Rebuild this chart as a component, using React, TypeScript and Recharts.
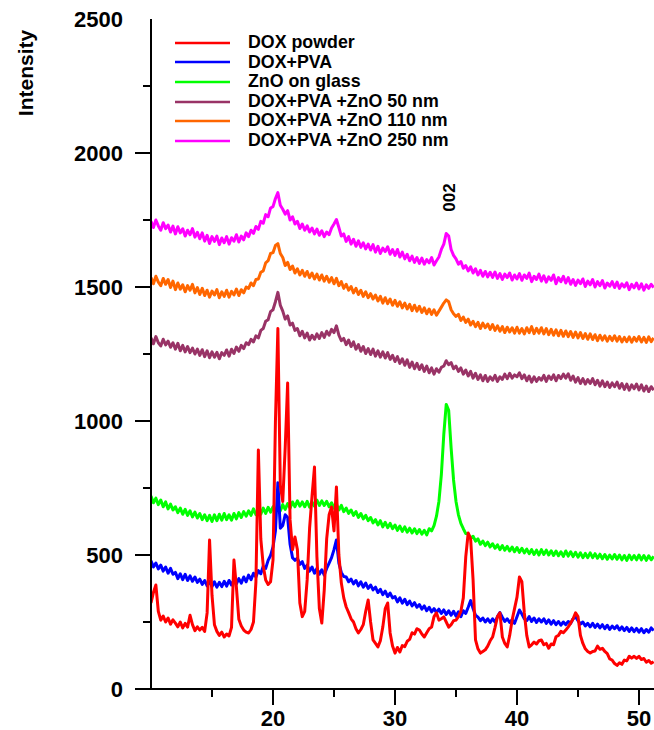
import { LineChart, Line, XAxis, YAxis, ReferenceDot } from 'recharts'

// XRD scans sampled every 0.2 deg (2θ), starting at 10 deg
const X_START = 10
const X_STEP = 0.2

const DOX_POWDER = [
  321, 360, 388, 290, 257, 272, 250, 265, 242, 258,
  246, 232, 250, 228, 245, 231, 275, 240, 218, 232,
  220, 230, 215, 284, 556, 350, 240, 215, 200, 212,
  194, 205, 198, 230, 481, 380, 260, 235, 220, 212,
  209, 222, 250, 400, 892, 560, 460, 407, 390, 400,
  481, 1000, 1345, 760, 700, 900, 1142, 631, 520, 567,
  520, 321, 270, 290, 407, 600, 720, 828, 493, 300,
  246, 369, 560, 650, 679, 590, 754, 500, 396, 340,
  306, 285, 262, 250, 225, 209, 222, 240, 290, 332,
  250, 183, 170, 157, 180, 231, 300, 321, 209, 160,
  134, 155, 138, 162, 158, 178, 185, 210, 205, 225,
  220, 205, 194, 210, 225, 231, 270, 284, 257, 262,
  269, 250, 231, 240, 255, 257, 270, 290, 340, 493,
  582, 560, 407, 183, 150, 134, 140, 146, 160, 180,
  194, 230, 270, 284, 194, 170, 157, 200, 257, 300,
  343, 418, 400, 284, 200, 157, 165, 175, 168, 180,
  183, 165, 170, 152, 168, 165, 195, 200, 215, 210,
  220, 232, 246, 262, 284, 270, 200, 170, 150, 140,
  134, 140, 142, 160, 148, 152, 140, 132, 112, 108,
  95, 88, 98, 92, 108, 105, 122, 115, 122, 114,
  122, 110, 114, 100, 106, 96, 102,
]

const DOX_PVA = [
  478, 455, 470, 448, 462, 440, 455, 432, 450, 428,
  435, 412, 430, 408, 428, 405, 422, 402, 418, 398,
  410, 390, 405, 385, 402, 382, 400, 380, 398, 382,
  402, 384, 405, 388, 408, 392, 412, 395, 418, 400,
  425, 408, 432, 418, 442, 430, 458, 450, 480, 498,
  530, 590, 770, 600, 610, 650, 640, 540, 490, 480,
  488, 465, 475, 450, 462, 440, 455, 432, 450, 428,
  445, 425, 450, 470, 490, 520, 556, 470, 435, 420,
  418, 400, 410, 392, 405, 385, 400, 380, 395, 375,
  388, 370, 380, 360, 372, 352, 365, 345, 358, 340,
  345, 325, 340, 320, 335, 315, 328, 310, 322, 305,
  315, 298, 310, 292, 305, 288, 300, 285, 298, 282,
  295, 278, 292, 275, 290, 272, 288, 270, 292, 282,
  305, 330, 300, 275, 268, 255, 265, 250, 262, 248,
  262, 250, 270, 285, 268, 252, 262, 248, 258, 245,
  270, 295, 280, 262, 255, 270, 252, 265, 248, 262,
  250, 262, 245, 258, 242, 255, 240, 252, 238, 250,
  240, 252, 245, 262, 270, 255, 242, 250, 235, 245,
  232, 245, 230, 242, 228, 240, 225, 238, 222, 235,
  225, 236, 220, 232, 218, 230, 215, 228, 214, 226,
  212, 225, 210, 222, 212, 228, 218,
]

const ZNO_GLASS = [
  720, 695, 712, 688, 705, 680, 698, 672, 690, 668,
  680, 658, 675, 652, 670, 648, 665, 642, 660, 638,
  655, 632, 650, 628, 648, 625, 650, 628, 652, 630,
  655, 632, 650, 630, 655, 635, 658, 640, 662, 645,
  665, 648, 672, 650, 668, 652, 675, 655, 678, 660,
  680, 662, 685, 665, 688, 670, 692, 675, 698, 680,
  702, 682, 698, 680, 700, 678, 698, 682, 705, 685,
  702, 685, 700, 680, 695, 675, 690, 668, 685, 662,
  675, 655, 668, 648, 662, 640, 655, 635, 648, 628,
  640, 620, 632, 612, 628, 605, 622, 602, 618, 598,
  612, 592, 608, 588, 605, 585, 600, 582, 598, 580,
  595, 578, 592, 575, 598, 590, 610, 645, 700, 800,
  950, 1062, 1040, 900, 780, 700, 650, 618, 598, 580,
  578, 562, 570, 552, 560, 540, 552, 535, 548, 530,
  542, 525, 538, 520, 535, 518, 532, 515, 530, 512,
  528, 510, 525, 508, 522, 505, 520, 502, 518, 500,
  520, 502, 518, 500, 516, 498, 515, 497, 512, 495,
  515, 496, 512, 494, 510, 492, 508, 490, 506, 490,
  508, 490, 505, 488, 503, 486, 502, 484, 500, 485,
  502, 484, 500, 482, 498, 480, 500, 483, 498, 482,
  500, 482, 498, 480, 497, 482, 495,
]

const ZNO_50 = [
  1310, 1288, 1315, 1292, 1280, 1305, 1284, 1298, 1275, 1292,
  1268, 1290, 1262, 1282, 1258, 1278, 1255, 1272, 1250, 1268,
  1245, 1266, 1240, 1262, 1236, 1258, 1238, 1256, 1232, 1255,
  1245, 1265, 1242, 1268, 1252, 1276, 1260, 1282, 1270, 1292,
  1285, 1305, 1295, 1318, 1310, 1338, 1345, 1372, 1378, 1408,
  1415, 1445, 1480, 1432, 1410, 1380, 1392, 1358, 1365, 1338,
  1345, 1318, 1335, 1310, 1328, 1302, 1320, 1305, 1325, 1308,
  1330, 1312, 1335, 1320, 1342, 1330, 1355, 1320, 1300, 1308,
  1285, 1302, 1278, 1295, 1268, 1285, 1260, 1278, 1252, 1270,
  1248, 1268, 1242, 1262, 1238, 1258, 1235, 1255, 1230, 1245,
  1222, 1240, 1215, 1232, 1208, 1228, 1200, 1220, 1195, 1215,
  1192, 1210, 1185, 1205, 1180, 1198, 1175, 1195, 1182, 1200,
  1205, 1225, 1210, 1218, 1195, 1205, 1185, 1198, 1175, 1190,
  1168, 1185, 1160, 1178, 1155, 1172, 1150, 1170, 1148, 1165,
  1152, 1170, 1148, 1165, 1155, 1175, 1158, 1178, 1160, 1172,
  1165, 1180, 1158, 1172, 1150, 1168, 1145, 1165, 1148, 1162,
  1152, 1170, 1148, 1168, 1155, 1172, 1150, 1170, 1158, 1175,
  1160, 1176, 1152, 1168, 1145, 1162, 1140, 1158, 1138, 1155,
  1140, 1158, 1135, 1152, 1130, 1150, 1128, 1145, 1125, 1142,
  1128, 1145, 1122, 1140, 1118, 1138, 1115, 1135, 1120, 1138,
  1116, 1135, 1112, 1130, 1110, 1128, 1115,
]

const ZNO_110 = [
  1535, 1512, 1540, 1518, 1505, 1532, 1510, 1528, 1498, 1522,
  1490, 1515, 1492, 1508, 1482, 1505, 1488, 1510, 1478, 1498,
  1472, 1495, 1468, 1488, 1462, 1485, 1470, 1490, 1460, 1482,
  1465, 1488, 1462, 1484, 1470, 1492, 1468, 1490, 1478, 1500,
  1495, 1515, 1505, 1528, 1530, 1555, 1560, 1590, 1598, 1625,
  1628, 1655, 1662, 1625, 1610, 1580, 1592, 1565, 1578, 1552,
  1568, 1545, 1562, 1540, 1558, 1535, 1552, 1530, 1548, 1526,
  1545, 1522, 1540, 1518, 1535, 1512, 1532, 1505, 1520, 1495,
  1510, 1488, 1502, 1478, 1495, 1472, 1488, 1465, 1482, 1460,
  1475, 1455, 1470, 1448, 1465, 1440, 1460, 1438, 1455, 1432,
  1450, 1428, 1445, 1422, 1440, 1418, 1435, 1412, 1432, 1410,
  1428, 1405, 1422, 1400, 1418, 1398, 1415, 1395, 1410, 1425,
  1440, 1452, 1445, 1415, 1400, 1390, 1398, 1375, 1388, 1368,
  1380, 1358, 1372, 1352, 1368, 1345, 1365, 1348, 1362, 1342,
  1360, 1338, 1355, 1335, 1352, 1330, 1350, 1332, 1348, 1328,
  1350, 1328, 1345, 1325, 1348, 1330, 1352, 1326, 1346, 1328,
  1348, 1325, 1345, 1322, 1342, 1320, 1340, 1318, 1338, 1316,
  1336, 1315, 1334, 1312, 1332, 1310, 1330, 1308, 1326, 1305,
  1325, 1304, 1322, 1300, 1320, 1302, 1318, 1298, 1316, 1300,
  1318, 1298, 1315, 1295, 1312, 1296, 1314, 1294, 1312, 1298,
  1315, 1295, 1312, 1293, 1314, 1296, 1310,
]

const ZNO_250 = [
  1745, 1722, 1750, 1728, 1712, 1740, 1718, 1731, 1705, 1727,
  1698, 1725, 1702, 1717, 1690, 1712, 1695, 1718, 1686, 1704,
  1680, 1702, 1671, 1693, 1662, 1688, 1670, 1690, 1658, 1683,
  1665, 1688, 1660, 1684, 1671, 1695, 1668, 1690, 1676, 1702,
  1688, 1712, 1700, 1726, 1715, 1745, 1738, 1770, 1762, 1795,
  1800, 1830, 1852, 1805, 1790, 1772, 1785, 1750, 1762, 1735,
  1745, 1718, 1735, 1712, 1728, 1705, 1720, 1698, 1716, 1693,
  1710, 1688, 1705, 1695, 1720, 1735, 1752, 1722, 1690, 1698,
  1670, 1688, 1660, 1678, 1652, 1672, 1648, 1665, 1642, 1660,
  1638, 1658, 1630, 1652, 1625, 1645, 1632, 1650, 1622, 1640,
  1618, 1640, 1612, 1630, 1605, 1622, 1598, 1615, 1592, 1610,
  1588, 1608, 1585, 1602, 1590, 1610, 1582, 1598, 1612, 1640,
  1660, 1700, 1690, 1640, 1618, 1605, 1585, 1595, 1570, 1580,
  1560, 1575, 1552, 1568, 1545, 1562, 1540, 1558, 1538, 1555,
  1536, 1556, 1532, 1550, 1528, 1548, 1535, 1552, 1526, 1545,
  1530, 1550, 1525, 1545, 1532, 1552, 1520, 1540, 1528, 1548,
  1522, 1542, 1518, 1538, 1525, 1545, 1512, 1535, 1520, 1540,
  1515, 1535, 1510, 1528, 1506, 1526, 1512, 1530, 1502, 1522,
  1508, 1528, 1500, 1520, 1505, 1524, 1496, 1515, 1503, 1520,
  1498, 1518, 1495, 1512, 1500, 1516, 1490, 1510, 1497, 1515,
  1493, 1512, 1488, 1508, 1495, 1510, 1498,
]

const SERIES_KEYS = ['doxPowder', 'doxPva', 'znoGlass', 'zno50', 'zno110', 'zno250']
const SERIES_NAMES = [
  'DOX powder',
  'DOX+PVA',
  'ZnO on glass',
  'DOX+PVA +ZnO 50 nm',
  'DOX+PVA +ZnO 110 nm',
  'DOX+PVA +ZnO 250 nm',
]
const SERIES_COLORS = ['#ff0000', '#0000ff', '#00ff00', '#993366', '#ff6600', '#ff00ff']
const SERIES_VALUES = [DOX_POWDER, DOX_PVA, ZNO_GLASS, ZNO_50, ZNO_110, ZNO_250]

// drawing order: red on top, like the original plot
const DRAW_ORDER = [2, 3, 4, 5, 1, 0]

const X_TICKS = [15, 20, 25, 30, 35, 40, 45, 50]
const Y_TICKS = [0, 250, 500, 750, 1000, 1250, 1500, 1750, 2000, 2250, 2500]

const PEAK_LABEL = { x: 34.45, y: 1834, text: '002' }

const FONT = "'Liberation Sans', Arial, sans-serif"

const data = DOX_POWDER.map((_, i) => {
  const row: Record<string, number> = { x: Math.round((X_START + i * X_STEP) * 10) / 10 }
  SERIES_KEYS.forEach((k, s) => {
    row[k] = SERIES_VALUES[s][i]
  })
  return row
})

function YTick(props: any) {
  const { x, y, payload } = props
  const major = payload.value % 500 === 0
  // the top tick is not drawn in the original, only its label
  const showLine = payload.value !== 2500
  return (
    <g>
      {showLine && <line x1={x - (major ? 16 : 8)} x2={x} y1={y} y2={y} stroke="#000" strokeWidth={2} />}
      {major && (
        <text x={x - 28} y={y + 8} textAnchor="end" fontSize={22} fontWeight="bold" fontFamily={FONT} fill="#000">
          {payload.value}
        </text>
      )}
    </g>
  )
}

function XTick(props: any) {
  const { x, y, payload } = props
  const major = payload.value % 10 === 0
  return (
    <g>
      <line x1={x} x2={x} y1={y} y2={y + (major ? 16 : 8)} stroke="#000" strokeWidth={2} />
      {major && (
        <text x={x} y={y + 37} textAnchor="middle" fontSize={22} fontWeight="bold" fontFamily={FONT} fill="#000">
          {payload.value}
        </text>
      )}
    </g>
  )
}

function IntensityLabel() {
  return (
    <text
      transform="translate(33,73) rotate(-90)"
      textAnchor="middle"
      fontSize={21}
      fontWeight="bold"
      fontFamily={FONT}
      fill="#000"
    >
      Intensity
    </text>
  )
}

export default function App() {
  return (
    <div style={{ position: 'absolute', left: 0, top: 0, width: 654, height: 730, background: '#fff' }}>
      <LineChart width={654} height={730} data={data} margin={{ top: 19, right: 0, bottom: 0, left: 0 }}>
        <XAxis
          dataKey="x"
          type="number"
          domain={[10, 51.23]}
          allowDataOverflow
          ticks={X_TICKS}
          tick={<XTick />}
          tickLine={false}
          tickSize={0}
          tickMargin={0}
          height={41}
          axisLine={{ stroke: '#000', strokeWidth: 2 }}
        />
        <YAxis
          type="number"
          domain={[0, 2500]}
          ticks={Y_TICKS}
          tick={<YTick />}
          tickLine={false}
          tickSize={0}
          tickMargin={0}
          width={151}
          axisLine={{ stroke: '#000', strokeWidth: 2 }}
          label={<IntensityLabel />}
        />
        {DRAW_ORDER.map(s => (
          <Line
            key={SERIES_KEYS[s]}
            dataKey={SERIES_KEYS[s]}
            name={SERIES_NAMES[s]}
            stroke={SERIES_COLORS[s]}
            strokeWidth={3}
            strokeLinejoin="round"
            dot={false}
            type="linear"
            isAnimationActive={false}
          />
        ))}
        <ReferenceDot
          x={PEAK_LABEL.x}
          y={PEAK_LABEL.y}
          r={0}
          fill="none"
          stroke="none"
          label={{ value: PEAK_LABEL.text, angle: -90, position: 'center', fontSize: 17, fontWeight: 'bold', fontFamily: FONT, fill: '#000' }}
        />
      </LineChart>

      <div style={{ position: 'absolute', left: 175, top: 33, fontFamily: FONT }}>
        {SERIES_NAMES.map((name, s) => (
          <div key={name} style={{ display: 'flex', alignItems: 'center', height: 19.6 }}>
            <svg width={55} height={4} style={{ display: 'block' }}>
              <line x1={0} x2={55} y1={2} y2={2} stroke={SERIES_COLORS[s]} strokeWidth={2.5} />
            </svg>
            <span style={{ marginLeft: 18, fontSize: 17.8, fontWeight: 'bold', lineHeight: '19.6px', whiteSpace: 'nowrap' }}>
              {name}
            </span>
          </div>
        ))}
      </div>
    </div>
  )
}
